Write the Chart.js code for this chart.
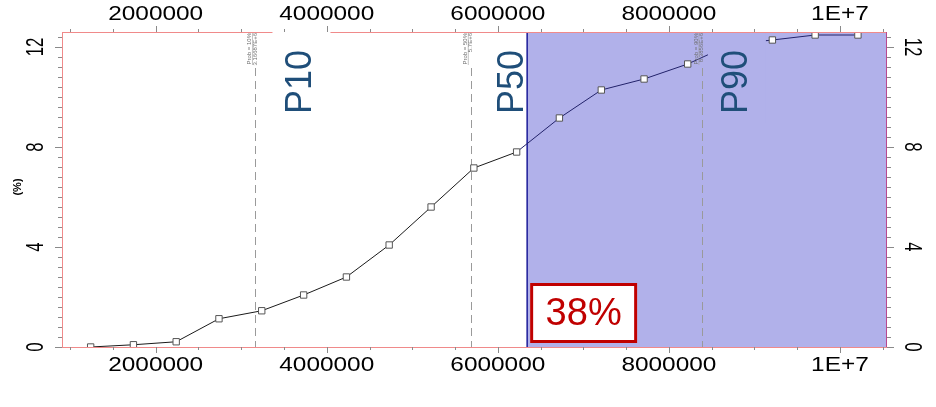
<!DOCTYPE html>
<html>
<head>
<meta charset="utf-8">
<script src="https://cdn.jsdelivr.net/npm/chart.js@4"></script>
<style>
  body { margin: 0; background: #fff; }
  canvas { display: block; }
</style>
</head>
<body>
<canvas id="cdfChart" width="936" height="407"></canvas>
<script>
// ===== Data =====
const xValues = [1240000, 1740000, 2240000, 2740000, 3240000, 3730000, 4230000, 4730000, 5220000, 5720000,
                 6220000, 6720000, 7210000, 7710000, 8220000, 8720000, 9210000, 9710000, 10210000];
const cumPct = [0, 0.09, 0.21, 1.13, 1.45, 2.08, 2.8, 4.08, 5.6, 7.16,
                7.8, 9.16, 10.28, 10.72, 11.32, 12.1, 12.28, 12.48, 12.48];

const xTickValues = [2000000, 4000000, 6000000, 8000000, 10000000];
const xTickLabels = ['2000000', '4000000', '6000000', '8000000', '1E+7'];
const yTickValues = [0, 4, 8, 12];
const yTickLabels = ['0', '4', '8', '12'];

const pNames = ['P10', 'P50', 'P90'];
const pValues = [3166870, 5690000, 8386000];
const pProbText = ['Prob = 10%', 'Prob = 50%', 'Prob = 90%'];
const pValueText = ['3.16687E+6', '5.7E+6', '8.3856E+6'];

const shadeFrom = 6343000;
const shadeLabel = '38%';

const X_MIN = 905000, X_MAX = 10550000, Y_MAX = 12.6;
const SHADE = '#b1b1ea';

// ===== Helpers =====
function rotText(ctx, text, x, y, angle, font, color, sx, align) {
  ctx.save();
  ctx.translate(x, y);
  ctx.rotate(angle);
  ctx.scale(sx || 1, 1);
  ctx.font = font;
  ctx.fillStyle = color;
  ctx.textAlign = align || 'center';
  ctx.textBaseline = 'middle';
  ctx.fillText(text, 0, 0);
  ctx.restore();
}

// ===== Background: shaded region, percentile lines, frame =====
const backgroundPlugin = {
  id: 'background',
  beforeDatasetsDraw(chart) {
    const { ctx, chartArea: a, scales } = chart;
    const xs = scales.x;
    const sx = xs.getPixelForValue(shadeFrom);

    ctx.save();
    ctx.fillStyle = SHADE;
    ctx.fillRect(sx, a.top, a.right - sx, a.bottom - a.top);

    // dashed percentile lines
    ctx.strokeStyle = '#9a9a9a';
    ctx.lineWidth = 1;
    ctx.setLineDash([8, 5]);
    pValues.forEach(v => {
      const px = Math.round(xs.getPixelForValue(v)) + 0.5;
      ctx.beginPath();
      ctx.moveTo(px, a.top + 36);
      ctx.lineTo(px, a.bottom);
      ctx.stroke();
    });
    ctx.setLineDash([]);

    // shade boundary
    ctx.strokeStyle = '#1a1a99';
    ctx.lineWidth = 1.5;
    ctx.beginPath();
    ctx.moveTo(sx, a.top);
    ctx.lineTo(sx, a.bottom);
    ctx.stroke();
    ctx.restore();
  }
};

// ===== Labels, annotation boxes and axes =====
const overlayPlugin = {
  id: 'overlay',
  afterDatasetsDraw(chart) {
    const { ctx, chartArea: a, scales } = chart;
    const xs = scales.x, ys = scales.y;
    const textOffsets = [46, 42, 35];
    const boxFills = ['#ffffff', null, SHADE];

    ctx.save();

    // frame (P10 box cuts through the top edge afterwards)
    ctx.strokeStyle = '#f08a8a';
    ctx.lineWidth = 1;
    ctx.strokeRect(a.left + 0.5, a.top + 0.5, a.right - a.left - 1, a.bottom - a.top);
    ctx.strokeStyle = '#b8488e';
    ctx.beginPath();
    ctx.moveTo(a.right - 0.5, a.top);
    ctx.lineTo(a.right - 0.5, a.bottom);
    ctx.stroke();

    pValues.forEach((v, i) => {
      const px = xs.getPixelForValue(v);
      const tx = px + textOffsets[i];
      if (boxFills[i]) {
        ctx.fillStyle = boxFills[i];
        const top = i === 0 ? a.top - 1 : a.top + 1;
        ctx.fillRect(tx - 29, top, 58, a.top + 91 - top);
      }
      rotText(ctx, pNames[i], tx, a.top + 50, -Math.PI / 2, '36px Arial', '#1f4e79');

      // small probability caption
      rotText(ctx, pProbText[i], px - 6, a.top + 1, -Math.PI / 2, '6px Arial', '#6f6f6f', 1, 'right');
      rotText(ctx, pValueText[i], px - 0.5, a.top + 1, -Math.PI / 2, '6px Arial', '#6f6f6f', 1, 'right');
      ctx.strokeStyle = '#9a9a9a';
      ctx.lineWidth = 0.6;
      ctx.beginPath();
      ctx.moveTo(px - 3, a.top + 1);
      ctx.lineTo(px - 3, a.top + 33);
      ctx.stroke();
    });

    // 38% box
    const bx = xs.getPixelForValue(shadeFrom) + 3;
    ctx.fillStyle = '#ffffff';
    ctx.fillRect(bx, a.bottom - 64, 107, 60);
    ctx.strokeStyle = '#c00000';
    ctx.lineWidth = 3;
    ctx.strokeRect(bx + 1.5, a.bottom - 62.5, 104, 57);
    ctx.font = '38px Arial';
    ctx.fillStyle = '#c00000';
    ctx.textAlign = 'center';
    ctx.textBaseline = 'middle';
    ctx.fillText(shadeLabel, bx + 53.5, a.bottom - 32);

    // tick marks
    ctx.strokeStyle = '#8a8a8a';
    ctx.lineWidth = 1;
    ctx.beginPath();
    for (let i = 2; i <= 21; i++) {
      const v = i * 500000;
      const px = Math.round(xs.getPixelForValue(v)) + 0.5;
      const len = v % 2000000 === 0 ? 6 : 3;
      ctx.moveTo(px, a.bottom); ctx.lineTo(px, a.bottom + len);
      ctx.moveTo(px, a.top); ctx.lineTo(px, a.top - len);
    }
    for (let i = 0; i <= 31; i++) {
      const py = Math.round(ys.getPixelForValue(i * 0.4)) + 0.5;
      const len = i % 10 === 0 ? 7 : 4;
      ctx.moveTo(a.left, py); ctx.lineTo(a.left - len, py);
      ctx.moveTo(a.right, py); ctx.lineTo(a.right + len, py);
    }
    ctx.stroke();

    // tick labels
    xTickValues.forEach((v, i) => {
      const px = xs.getPixelForValue(v);
      rotText(ctx, xTickLabels[i], px, 14, 0, '20px Arial', '#000', 1.22);
      rotText(ctx, xTickLabels[i], px, a.bottom + 18, 0, '20px Arial', '#000', 1.22);
    });
    yTickValues.forEach((v, i) => {
      const py = ys.getPixelForValue(v);
      rotText(ctx, yTickLabels[i], 36, py, -Math.PI / 2, '24px Arial', '#000', 0.7);
      rotText(ctx, yTickLabels[i], a.right + 25, py, Math.PI / 2, '24px Arial', '#000', 0.7);
    });
    rotText(ctx, '(%)', 18, 187, -Math.PI / 2, 'bold 11px Arial', '#000');
    ctx.restore();
  }
};

// ===== Chart =====
const ctx = document.getElementById('cdfChart').getContext('2d');
const cdfChart = new Chart(ctx, {
  type: 'scatter',
  data: {
    datasets: [{
      data: xValues.map((x, i) => ({ x: x, y: cumPct[i] })),
      showLine: true,
      borderColor: '#1a1a1a',
      borderWidth: 1,
      segment: {
        borderColor: c => c.p1.parsed.x > shadeFrom ? '#22226a' : '#1a1a1a'
      },
      pointStyle: 'rect',
      pointRadius: 4.5,
      pointBackgroundColor: '#ffffff',
      pointBorderColor: '#555555',
      pointBorderWidth: 1
    }]
  },
  options: {
    responsive: false,
    animation: false,
    layout: { padding: 0 },
    plugins: {
      legend: { display: false },
      tooltip: { enabled: false }
    },
    scales: {
      x: {
        type: 'linear', position: 'bottom', min: X_MIN, max: X_MAX,
        ticks: { display: false }, grid: { display: false }, border: { display: false },
        afterFit: s => { s.height = 60; }
      },
      xTop: {
        type: 'linear', axis: 'x', position: 'top', min: X_MIN, max: X_MAX,
        ticks: { display: false }, grid: { display: false }, border: { display: false },
        afterFit: s => { s.height = 32; }
      },
      y: {
        type: 'linear', position: 'left', min: 0, max: Y_MAX,
        ticks: { display: false }, grid: { display: false }, border: { display: false },
        afterFit: s => { s.width = 62; }
      },
      yRight: {
        type: 'linear', axis: 'y', position: 'right', min: 0, max: Y_MAX,
        ticks: { display: false }, grid: { display: false }, border: { display: false },
        afterFit: s => { s.width = 49; }
      }
    }
  },
  plugins: [backgroundPlugin, overlayPlugin]
});
</script>
</body>
</html>
